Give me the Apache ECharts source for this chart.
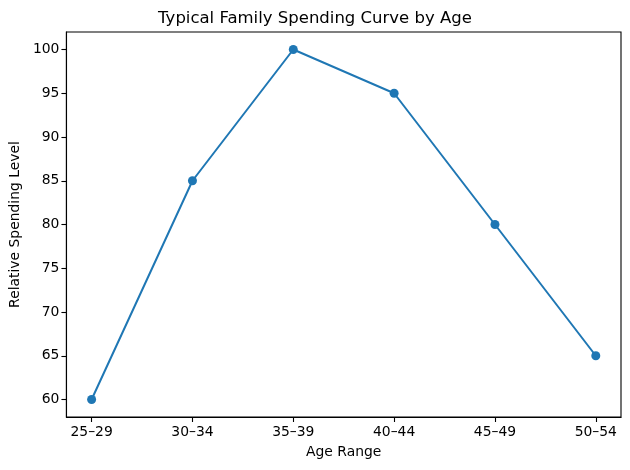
<!DOCTYPE html>
<html><head><meta charset="utf-8">
<script src="https://cdn.jsdelivr.net/npm/echarts@6/dist/echarts.min.js"></script>
<style>html,body{margin:0;padding:0;background:#fff}#c{width:630px;height:470px}</style>
</head><body><div id="c"></div>
<script>
const categories = ['25–29','30–34','35–39','40–44','45–49','50–54'];
const spending = [60, 85, 100, 95, 80, 65];
const yTicks = [60, 65, 70, 75, 80, 85, 90, 95, 100];
const xTicks = [0, 1, 2, 3, 4, 5];

const font = 'DejaVu Sans';
const chart = echarts.init(document.getElementById('c'), null, {renderer: 'canvas'});
chart.setOption({
  animation: false,
  backgroundColor: '#fff',
  title: {
    text: 'Typical Family Spending Curve by Age',
    left: 'center', top: 5,
    textStyle: {fontFamily: font, fontSize: 16.5, fontWeight: 'normal', color: '#000'}
  },
  grid: {left: 66, right: 9, top: 32, bottom: 53, show: true, borderColor: '#000', borderWidth: 1.1, backgroundColor: 'transparent'},
  xAxis: {
    type: 'value', min: -0.25, max: 5.25,
    name: 'Age Range', nameLocation: 'middle', nameGap: 28,
    nameTextStyle: {fontFamily: font, fontSize: 13.9, color: '#000'},
    splitLine: {show: false},
    axisLine: {show: true, onZero: false, lineStyle: {color: '#000', width: 1.1}},
    axisTick: {show: true, length: 5, customValues: xTicks, lineStyle: {color: '#000', width: 1.1}},
    axisLabel: {customValues: xTicks, margin: 8, fontFamily: font, fontSize: 13.9, color: '#000',
      formatter: v => categories[Math.round(v)]}
  },
  yAxis: {
    type: 'value', min: 58, max: 102,
    name: 'Relative Spending Level', nameLocation: 'middle', nameGap: 44, nameRotate: 90,
    nameTextStyle: {fontFamily: font, fontSize: 13.9, color: '#000'},
    splitLine: {show: false},
    axisLine: {show: true, onZero: false, lineStyle: {color: '#000', width: 1.1}},
    axisTick: {show: true, length: 5, customValues: yTicks, lineStyle: {color: '#000', width: 1.1}},
    axisLabel: {customValues: yTicks, margin: 7, fontFamily: font, fontSize: 13.9, color: '#000'}
  },
  series: [{
    type: 'line',
    data: spending.map((v, i) => [i, v]),
    symbol: 'circle', symbolSize: 9,
    lineStyle: {color: '#1f77b4', width: 2},
    itemStyle: {color: '#1f77b4'}
  }]
});
</script></body></html>
